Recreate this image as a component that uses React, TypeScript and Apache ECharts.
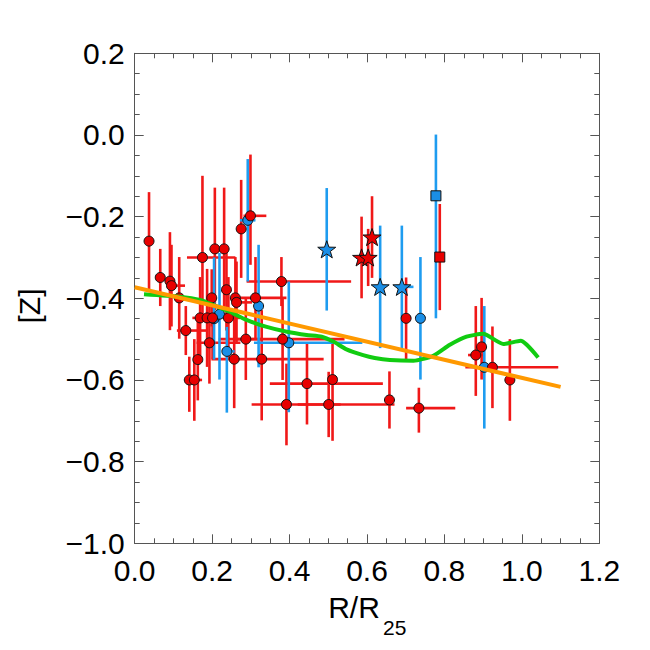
import React, { useEffect, useRef } from "react";
import * as echarts from "echarts";

// [x, y, xErrMinus, xErrPlus, yErrMinus, yErrPlus]
const RED_CIRCLES: number[][] = [
  [0.037, -0.26, 0, 0, 0.12, 0.12],
  [0.066, -0.349, 0.013, 0.013, 0.07, 0.07],
  [0.091, -0.358, 0, 0, 0.12, 0.12],
  [0.095, -0.369, 0, 0.035, 0.1, 0.1],
  [0.115, -0.399, 0, 0, 0.1, 0.1],
  [0.132, -0.479, 0.023, 0.054, 0.06, 0.06],
  [0.141, -0.6, 0, 0, 0.078, 0.057],
  [0.154, -0.6, 0, 0.02, 0.1, 0.1],
  [0.163, -0.55, 0, 0, 0.1, 0.1],
  [0.175, -0.3, 0.04, 0.085, 0.15, 0.2],
  [0.169, -0.448, 0.02, 0.02, 0.1, 0.1],
  [0.187, -0.448, 0, 0, 0.12, 0.12],
  [0.201, -0.448, 0, 0, 0.1, 0.1],
  [0.193, -0.509, 0.033, 0.08, 0.1, 0.1],
  [0.199, -0.399, 0, 0, 0.07, 0.07],
  [0.207, -0.279, 0, 0, 0.15, 0.15],
  [0.231, -0.279, 0, 0, 0.15, 0.15],
  [0.237, -0.379, 0, 0, 0.1, 0.1],
  [0.242, -0.448, 0, 0.03, 0.1, 0.1],
  [0.26, -0.399, 0, 0, 0.1, 0.1],
  [0.263, -0.41, 0, 0.04, 0.1, 0.1],
  [0.275, -0.23, 0, 0, 0.12, 0.12],
  [0.299, -0.198, 0.018, 0.041, 0.12, 0.15],
  [0.257, -0.549, 0, 0, 0.12, 0.12],
  [0.287, -0.5, 0.03, 0.04, 0.1, 0.1],
  [0.312, -0.399, 0.04, 0.08, 0.1, 0.1],
  [0.328, -0.549, 0.13, 0.16, 0.15, 0.12],
  [0.379, -0.359, 0.09, 0.18, 0.06, 0.06],
  [0.382, -0.5, 0.165, 0.16, 0.1, 0.1],
  [0.392, -0.66, 0.09, 0.14, 0.1, 0.1],
  [0.445, -0.609, 0.096, 0.196, 0.1, 0.1],
  [0.501, -0.66, 0.08, 0.17, 0.08, 0.08],
  [0.511, -0.599, 0, 0, 0.15, 0.1],
  [0.701, -0.449, 0, 0, 0.1, 0.1],
  [0.658, -0.649, 0, 0, 0.07, 0.07],
  [0.734, -0.669, 0.033, 0.094, 0.06, 0.05],
  [0.896, -0.519, 0, 0, 0.08, 0.12],
  [0.881, -0.539, 0.02, 0.02, 0.1, 0.12],
  [0.924, -0.569, 0.07, 0.17, 0.1, 0.1],
  [0.969, -0.6, 0, 0, 0.1, 0.1],
];

const BLUE_CIRCLES: number[][] = [
  [0.292, -0.209, 0.02, 0.02, 0.15, 0.15],
  [0.205, -0.45, 0, 0, 0.1, 0.15],
  [0.219, -0.439, 0, 0, 0.16, 0.15],
  [0.32, -0.419, 0, 0, 0.15, 0.15],
  [0.398, -0.509, 0.09, 0.19, 0.17, 0.15],
  [0.238, -0.53, 0, 0.02, 0.15, 0.06],
  [0.738, -0.449, 0, 0, 0.15, 0.15],
  [0.903, -0.569, 0, 0, 0.15, 0.15],
];

const BLUE_STARS: number[][] = [
  [0.496, -0.28, 0, 0, 0.15, 0.15],
  [0.634, -0.372, 0, 0, 0.15, 0.15],
  [0.69, -0.372, 0, 0.03, 0.15, 0.15],
];

const RED_STARS: number[][] = [
  [0.586, -0.3, 0, 0, 0.1, 0.1],
  [0.603, -0.3, 0, 0, 0.07, 0.07],
  [0.613, -0.25, 0, 0, 0.1, 0.1],
];

const BLUE_SQUARES: number[][] = [[0.778, -0.149, 0, 0, 0.3, 0.15]];
const RED_SQUARES: number[][] = [[0.788, -0.299, 0, 0, 0.13, 0.13]];

// running mean (green)
const GREEN_X = [0.024, 0.115, 0.169, 0.212, 0.246, 0.289, 0.341, 0.393, 0.444, 0.483, 0.513, 0.547, 0.59, 0.62, 0.659, 0.72, 0.771, 0.814, 0.857, 0.9, 0.952, 0.997, 1.042];
const GREEN_Y = [-0.39, -0.396, -0.404, -0.42, -0.433, -0.453, -0.47, -0.482, -0.49, -0.494, -0.506, -0.525, -0.539, -0.546, -0.551, -0.553, -0.541, -0.514, -0.494, -0.487, -0.512, -0.504, -0.545];

// linear fit (orange)
const ORANGE_X = [0.0, 1.1];
const ORANGE_Y = [-0.373, -0.617];

const X_TICKS = [0, 0.2, 0.4, 0.6, 0.8, 1.0, 1.2];
const Y_TICKS = [-1.0, -0.8, -0.6, -0.4, -0.2, 0.0, 0.2];

const RED_BAR = "#f01818";
const BLUE_BAR = "#1e9cf0";
const RED_FILL = "#e80000";
const BLUE_FILL = "#1a8ee6";

function starPath(): string {
  const pts: string[] = [];
  for (let i = 0; i < 10; i++) {
    const a = (-90 + i * 36) * (Math.PI / 180);
    const r = i % 2 === 0 ? 50 : 20;
    pts.push(`${(50 + r * Math.cos(a)).toFixed(2)} ${(50 + r * Math.sin(a)).toFixed(2)}`);
  }
  return "path://M" + pts.join(" L") + " Z";
}

function errorSeries(data: number[][], color: string) {
  return {
    type: "custom",
    data,
    encode: { x: 0, y: 1 },
    z: 2,
    renderItem: (params: any, api: any) => {
      const x = api.value(0);
      const y = api.value(1);
      const xl = api.value(2);
      const xh = api.value(3);
      const yl = api.value(4);
      const yh = api.value(5);
      const c = api.coord([x, y]);
      const top = api.coord([x, y + yh]);
      const bot = api.coord([x, y - yl]);
      const left = api.coord([x - xl, y]);
      const right = api.coord([x + xh, y]);
      const children: any[] = [];
      children.push({
        type: "line",
        shape: { x1: c[0], y1: top[1], x2: c[0], y2: bot[1] },
        style: { stroke: color, lineWidth: 2.6 },
      });
      if (xl > 0 || xh > 0) {
        children.push({
          type: "line",
          shape: { x1: left[0], y1: c[1], x2: right[0], y2: c[1] },
          style: { stroke: color, lineWidth: 2.6 },
        });
      }
      return { type: "group", children };
    },
  };
}

function markerSeries(data: number[][], symbol: string, size: number, color: string) {
  return {
    type: "scatter",
    data: data.map((d) => [d[0], d[1]]),
    symbol,
    symbolSize: size,
    symbolKeepAspect: true,
    z: 3,
    itemStyle: { color, borderColor: "#111", borderWidth: 1, opacity: 1 },
  };
}

const fmt = (v: number) => {
  const s = Math.abs(v).toFixed(1);
  return v < -1e-9 ? "\u2212" + s : s;
};

export default function App() {
  const ref = useRef<HTMLDivElement>(null);
  useEffect(() => {
    if (!ref.current) return;
    const chart = echarts.init(ref.current, undefined, { renderer: "svg" });
    const axisCommon = {
      type: "value",
      splitLine: { show: false },
      axisLine: { show: true, onZero: false, lineStyle: { color: "#555", width: 1 } },
      axisTick: { show: true, inside: true, length: 9, lineStyle: { color: "#555" } },
      minorTick: { show: true, splitNumber: 4, length: 5, lineStyle: { color: "#555" } },
      minorSplitLine: { show: false },
    };
    const labelStyle = { fontFamily: "Liberation Sans, Arial, sans-serif", fontSize: 30, color: "#000" };
    const star = starPath();
    chart.setOption({
      animation: false,
      backgroundColor: "#fff",
      grid: { left: 134.7, right: 50.7, top: 53.3, bottom: 106.7, containLabel: false },
      xAxis: [
        {
          ...axisCommon,
          position: "bottom",
          min: X_TICKS[0],
          max: X_TICKS[X_TICKS.length - 1],
          interval: 0.2,
          axisLabel: { ...labelStyle, margin: 12, formatter: fmt },
        },
        {
          ...axisCommon,
          position: "top",
          min: X_TICKS[0],
          max: X_TICKS[X_TICKS.length - 1],
          interval: 0.2,
          axisLabel: { show: false },
        },
      ],
      yAxis: [
        {
          ...axisCommon,
          position: "left",
          min: Y_TICKS[0],
          max: Y_TICKS[Y_TICKS.length - 1],
          interval: 0.2,
          axisLabel: { ...labelStyle, margin: 10, formatter: fmt },
        },
        {
          ...axisCommon,
          position: "right",
          min: Y_TICKS[0],
          max: Y_TICKS[Y_TICKS.length - 1],
          interval: 0.2,
          axisLabel: { show: false },
        },
      ],
      graphic: [
        {
          type: "text",
          x: 354,
          y: 607,
          style: {
            text: "R/R",
            font: "30px 'Liberation Sans', Arial, sans-serif",
            fill: "#000",
            align: "center",
            verticalAlign: "middle",
          },
        },
        {
          type: "text",
          x: 383,
          y: 627,
          style: {
            text: "25",
            font: "21px 'Liberation Sans', Arial, sans-serif",
            fill: "#000",
            align: "left",
            verticalAlign: "middle",
          },
        },
        {
          type: "text",
          x: 29,
          y: 306,
          rotation: Math.PI / 2,
          style: {
            text: "[Z]",
            font: "30px 'Liberation Sans', Arial, sans-serif",
            fill: "#000",
            align: "center",
            verticalAlign: "middle",
          },
        },
      ],
      series: [
        errorSeries(RED_CIRCLES.concat(RED_STARS, RED_SQUARES), RED_BAR),
        errorSeries(BLUE_CIRCLES.concat(BLUE_STARS, BLUE_SQUARES), BLUE_BAR),
        markerSeries(BLUE_CIRCLES, "circle", 10, BLUE_FILL),
        markerSeries(RED_CIRCLES, "circle", 10, RED_FILL),
        markerSeries(RED_STARS, star, 18, RED_FILL),
        markerSeries(BLUE_STARS, star, 18, BLUE_FILL),
        markerSeries(RED_SQUARES, "rect", 10, RED_FILL),
        markerSeries(BLUE_SQUARES, "rect", 10, BLUE_FILL),
        {
          type: "line",
          data: GREEN_X.map((x, i) => [x, GREEN_Y[i]]),
          smooth: 0.2,
          showSymbol: false,
          symbol: "none",
          z: 4,
          lineStyle: { color: "#11cc11", width: 4 },
        },
        {
          type: "line",
          data: ORANGE_X.map((x, i) => [x, ORANGE_Y[i]]),
          showSymbol: false,
          symbol: "none",
          z: 5,
          lineStyle: { color: "#ff9900", width: 4 },
        },
      ],
    });
    return () => chart.dispose();
  }, []);
  return (
    <div
      ref={ref}
      style={{ position: "fixed", left: 0, top: 0, width: 650, height: 650, background: "#fff" }}
    />
  );
}
